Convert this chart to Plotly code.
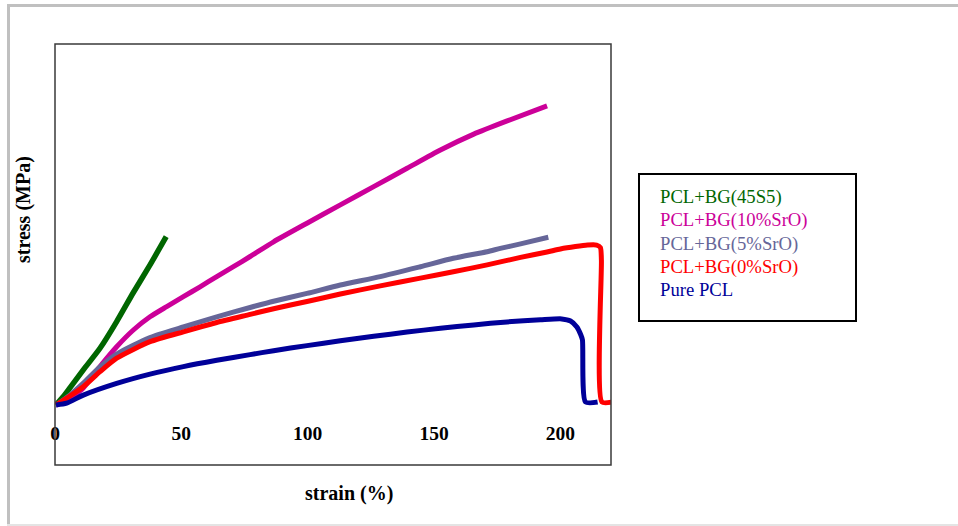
import plotly.graph_objects as go

# ---------------- data (strain %, stress MPa) ----------------
series_names = ["PCL+BG(45S5)", "PCL+BG(10%SrO)", "PCL+BG(5%SrO)", "PCL+BG(0%SrO)", "Pure PCL"]

green_x = [0.4, 3.3, 5.9, 11.2, 17.8, 24.4, 31.0, 37.6, 44.0]
green_y = [0.0, 0.28, 0.57, 1.17, 1.89, 2.78, 3.75, 4.67, 5.61]

magenta_x = [0.4, 4.6, 11.2, 17.8, 24.4, 31.0, 37.6, 44.2, 50.8, 57.4, 64.0, 70.6, 77.2,
             86.5, 99.7, 112.9, 126.1, 139.3, 152.5, 165.7, 178.9, 194.7]
magenta_y = [0.0, 0.13, 0.57, 1.28, 1.94, 2.5, 2.94, 3.28, 3.61, 3.94, 4.28, 4.61, 4.95,
             5.44, 6.06, 6.67, 7.28, 7.89, 8.5, 9.03, 9.47, 9.97]

gray_x = [0.4, 5.9, 11.2, 17.8, 24.4, 37.6, 50.8, 64.0, 77.2, 86.5, 99.7, 112.9, 128.7,
          144.6, 157.6, 171.0, 176.2, 184.2, 195.2]
gray_y = [0.0, 0.33, 0.73, 1.27, 1.7, 2.25, 2.6, 2.94, 3.25, 3.46, 3.72, 4.0, 4.28,
          4.61, 4.89, 5.11, 5.22, 5.37, 5.59]

red_x = [0.4, 5.9, 11.2, 17.8, 24.4, 37.6, 50.8, 64.0, 77.2, 86.5, 99.7, 112.9, 128.7,
         144.6, 157.6, 171.0, 184.2, 194.7, 200.0, 205.9, 210.7, 214.3, 215.8, 216.2, 216.4, 220.5]
red_y = [0.0, 0.3, 0.61, 1.11, 1.56, 2.11, 2.44, 2.75, 3.02, 3.21, 3.45, 3.7, 3.97,
         4.23, 4.44, 4.67, 4.92, 5.1, 5.2, 5.28, 5.33, 5.33, 5.25, 4.83, 0.1, 0.1]

blue_x = [0.4, 4.6, 11.2, 24.4, 37.6, 50.8, 64.0, 77.2, 86.5, 99.7, 112.9, 126.1, 139.3,
          152.5, 165.7, 178.9, 192.1, 200.5, 204.0, 206.5, 208.0, 208.7, 209.9, 214.7]
blue_y = [0.0, 0.06, 0.33, 0.72, 1.03, 1.28, 1.49, 1.68, 1.81, 1.98, 2.14, 2.29, 2.43,
          2.56, 2.67, 2.77, 2.84, 2.87, 2.8, 2.6, 2.35, 2.17, 0.1, 0.1]

x_ticks = [0, 50, 100, 150, 200]
x_tick_labels = ["0", "50", "100", "150", "200"]

colors = ["#006600", "#CC0099", "#666699", "#FF0000", "#000099"]
# ------------------------------------------------------------

W, H = 958, 526
L, R, T, B = 55, 611, 44, 465          # plot area in pixels


def px(x):
    return (x - L) / (R - L)


def py(y):
    return (B - y) / (B - T)


SERIF = "Liberation Serif, Times New Roman, serif"

fig = go.Figure()
all_series = [(green_x, green_y), (magenta_x, magenta_y), (gray_x, gray_y),
              (red_x, red_y), (blue_x, blue_y)]
widths = [5.5, 5, 5, 5, 5]
for (xs, ys), name, c, w in zip(all_series, series_names, colors, widths):
    fig.add_trace(go.Scatter(x=xs, y=ys, mode="lines", name=name,
                             line=dict(color=c, width=w, shape="spline", smoothing=0.6),
                             showlegend=False))

y_min, y_max = -2.0, 12.033
zero_pos = (0 - y_min) / (y_max - y_min)

fig.update_layout(
    width=W, height=H,
    margin=dict(l=L, r=W - R, t=T, b=H - B, pad=0),
    paper_bgcolor="white", plot_bgcolor="white",
    showlegend=False,
    xaxis=dict(range=[0, 220], anchor="free", position=zero_pos,
               tickvals=x_ticks, ticktext=x_tick_labels,
               ticks="outside", ticklen=11, tickcolor="rgba(0,0,0,0)",
               showline=False, showgrid=False, zeroline=False,
               tickfont=dict(family=SERIF, size=19.5, color="black", weight="bold")),
    yaxis=dict(range=[y_min, y_max], showticklabels=False, showgrid=False,
               zeroline=False, showline=False, ticks=""),
)

shapes = [
    # plot frame
    dict(type="rect", xref="paper", yref="paper", x0=0, x1=1, y0=0, y1=1,
         line=dict(color="#3a3a3a", width=1.5)),
    # outer chart frame (light gray)
    dict(type="line", xref="paper", yref="paper", x0=px(7), x1=px(958), y0=py(5.5), y1=py(5.5),
         line=dict(color="#c0c0c0", width=3)),
    dict(type="line", xref="paper", yref="paper", x0=px(8.5), x1=px(8.5), y0=py(4), y1=py(526),
         line=dict(color="#c0c0c0", width=3)),
    dict(type="line", xref="paper", yref="paper", x0=px(7), x1=px(958), y0=py(525), y1=py(525),
         line=dict(color="#e4e4e4", width=2)),
    # legend box
    dict(type="rect", xref="paper", yref="paper", x0=px(639), x1=px(856), y0=py(321), y1=py(174),
         line=dict(color="black", width=2)),
]
fig.update_layout(shapes=shapes)

annotations = [
    dict(text="<b>strain (%)</b>", x=px(348.5), y=py(493), xref="paper", yref="paper",
         showarrow=False, xanchor="center", yanchor="middle",
         font=dict(family=SERIF, size=20, color="black")),
    dict(text="<b>stress (MPa)</b>", x=px(23), y=py(210), xref="paper", yref="paper",
         showarrow=False, xanchor="center", yanchor="middle", textangle=-90,
         font=dict(family=SERIF, size=20, color="black")),
]
legend_y = [196.7, 220.5, 243.5, 266.5, 289.5]
for name, c, ly in zip(series_names, colors, legend_y):
    annotations.append(dict(text=name, x=px(658), y=py(ly), xref="paper", yref="paper",
                            showarrow=False, xanchor="left", yanchor="middle",
                            font=dict(family=SERIF, size=18.7, color=c)))
fig.update_layout(annotations=annotations)

fig.write_html("out.html", config={"displayModeBar": False},
               post_script="document.body.style.margin='0px';document.body.style.overflow='hidden';")
